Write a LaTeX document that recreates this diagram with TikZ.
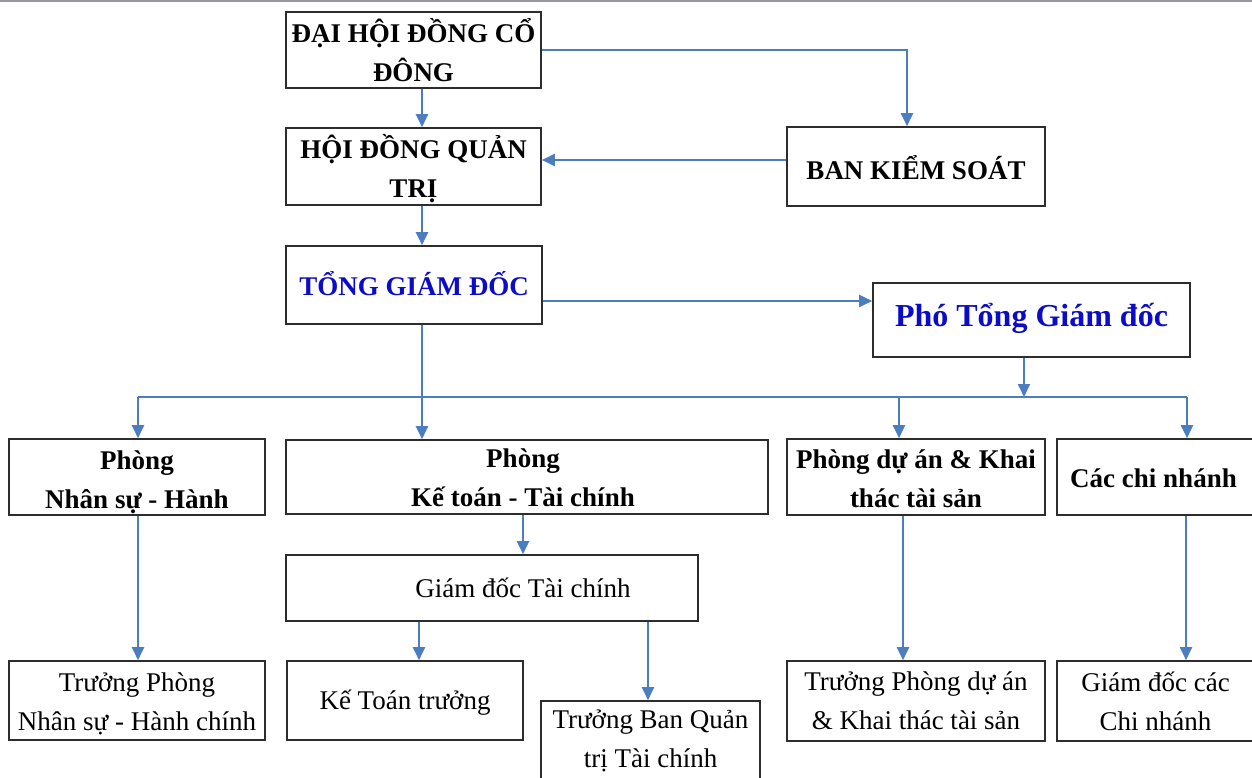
\documentclass[tikz,border=0pt]{standalone}
\usepackage{fontspec}
\setmainfont{Liberation Serif}
\usetikzlibrary{arrows.meta}
\definecolor{linkblue}{RGB}{76,125,192}
\definecolor{headblue}{RGB}{12,12,200}
\definecolor{framegray}{RGB}{45,45,45}
\definecolor{bargray}{RGB}{150,150,156}
\begin{document}
\begin{tikzpicture}[x=1pt,y=-1pt,
  frame/.style={draw=framegray,line width=1.6pt,fill=white,inner sep=0pt},
  plaintext/.style={inner sep=0pt,align=center,font=\fontsize{27}{39}\selectfont},
  boldtext/.style={plaintext,font=\fontsize{27}{39}\selectfont\bfseries},
  link/.style={draw=linkblue,line width=2pt},
  arr/.style={link,-{Triangle[length=13pt,width=12pt]}}]
\useasboundingbox (0,0) rectangle (1252,778);
\clip (0,0) rectangle (1252,778);
\fill[bargray] (0,0) rectangle (1252,2.5);

% governance level
\node[frame,minimum width=255pt,minimum height=76pt] (dh) at (413.5,50) {};
\node[frame,minimum width=255pt,minimum height=77pt] (hd) at (413.5,166.5) {};
\node[frame,minimum width=258pt,minimum height=79pt] (bks) at (916,166.5) {};
\node[frame,minimum width=256pt,minimum height=78pt] (tgd) at (414,285) {};
\node[frame,minimum width=317pt,minimum height=74pt] (pho) at (1031.5,320) {};

\node[boldtext] (dhT) at (dh.center) {ĐẠI HỘI ĐỒNG CỔ\\ĐÔNG};
\node[boldtext] (hdT) at ([yshift=-2.5pt]hd.center) {HỘI ĐỒNG QUẢN\\TRỊ};
\node[boldtext] (bksT) at ([yshift=-1pt]bks.center) {BAN KIỂM SOÁT};
\node[boldtext,text=headblue] (tgdT) at ([yshift=1pt]tgd.center) {TỔNG GIÁM ĐỐC};
\node[boldtext,text=headblue,font=\fontsize{32}{39}\selectfont\bfseries] (phoT)
  at ([yshift=2pt]pho.center) {Phó Tổng Giám đốc};

% departments
\node[frame,minimum width=256pt,minimum height=76pt] (pns) at (137,477) {};
\node[frame,minimum width=482pt,minimum height=74pt] (pkt) at (527,477) {};
\node[frame,minimum width=258pt,minimum height=76pt] (pda) at (916,477) {};
\node[frame,minimum width=205pt,minimum height=76pt] (pcn) at (1159.5,477) {};

\node[boldtext] (pnsT) at ([yshift=-5pt]pns.center) {Phòng\\Nhân sự - Hành};
\node[boldtext] (pktT) at ([shift={(-4pt,-1pt)}]pkt.center) {Phòng\\Kế toán - Tài chính};
\node[boldtext] (pdaT) at ([yshift=-2pt]pda.center) {Phòng dự án \& Khai\\thác tài sản};
\node[boldtext] (pcnT) at ([shift={(-6pt,-1pt)}]pcn.center) {Các chi nhánh};

% finance director
\node[frame,minimum width=412pt,minimum height=66pt] (gdtc) at (492,588) {};
\node[plaintext] (gdtcT) at ([xshift=31pt]gdtc.center) {Giám đốc Tài chính};

% heads of units
\node[frame,minimum width=256pt,minimum height=79pt] (tpns) at (137,700.5) {};
\node[frame,minimum width=236pt,minimum height=79pt] (ktt) at (405,700.5) {};
\node[frame,minimum width=219pt,minimum height=80pt] (tbq) at (650.5,741) {};
\node[frame,minimum width=258pt,minimum height=80pt] (tpda) at (916,701) {};
\node[frame,minimum width=205pt,minimum height=80pt] (gdcn) at (1159.5,701) {};

\node[plaintext] (tpnsT) at ([yshift=-3.5pt]tpns.center) {Trưởng Phòng\\Nhân sự - Hành chính};
\node[plaintext] (kttT) at ([yshift=-2.5pt]ktt.center) {Kế Toán trưởng};
\node[plaintext] (tbqT) at (tbq.center) {Trưởng Ban Quản\\trị Tài chính};
\node[plaintext] (tpdaT) at (tpda.center) {Trưởng Phòng dự án\\\& Khai thác tài sản};
\node[plaintext] (gdcnT) at ([xshift=-4pt]gdcn.center) {Giám đốc các\\Chi nhánh};

% connectors among the governing bodies
\draw[arr] ([xshift=8.5pt]dh.south) -- ([xshift=8.5pt]hd.north);
\draw[arr] (dh.east) -| ([xshift=-9pt]bks.north);
\draw[arr] ([yshift=6.5pt]bks.west) -- ([yshift=6.5pt]bks.west -| hd.east);
\draw[arr] ([xshift=8.5pt]hd.south) -- ([xshift=8pt]tgd.north);
\draw[arr] ([yshift=-16pt]tgd.east) -- ([yshift=-16pt]tgd.east -| pho.west);

% distribution bus to the departments
\coordinate (busL) at (138,397);
\coordinate (busR) at (1187,397);
\draw[link] (busL) -- (busR);
\draw[arr] ([xshift=8pt]tgd.south) -- ([xshift=8pt]tgd.south |- pkt.north);
\draw[arr] ([xshift=-7.5pt]pho.south) -- ([xshift=-7.5pt]pho.south |- busL);
\draw[arr] (busL) -- (busL |- pns.north);
\draw[arr] ([xshift=-17pt]pda.north |- busL) -- ([xshift=-17pt]pda.north);
\draw[arr] (busR) -- (busR |- pcn.north);

% departments to their heads
\draw[arr] ([xshift=1pt]pns.south) -- ([xshift=1pt]tpns.north);
\draw[arr] ([xshift=-4pt]pkt.south) -- ([xshift=-4pt]pkt.south |- gdtc.north);
\draw[arr] ([xshift=-73pt]gdtc.south) -- ([xshift=-73pt]gdtc.south |- ktt.north);
\draw[arr] ([xshift=156pt]gdtc.south) -- ([xshift=156pt]gdtc.south |- tbq.north);
\draw[arr] ([xshift=-13pt]pda.south) -- ([xshift=-13pt]tpda.north);
\draw[arr] ([xshift=26.5pt]pcn.south) -- ([xshift=26.5pt]gdcn.north);
\end{tikzpicture}
\end{document}
